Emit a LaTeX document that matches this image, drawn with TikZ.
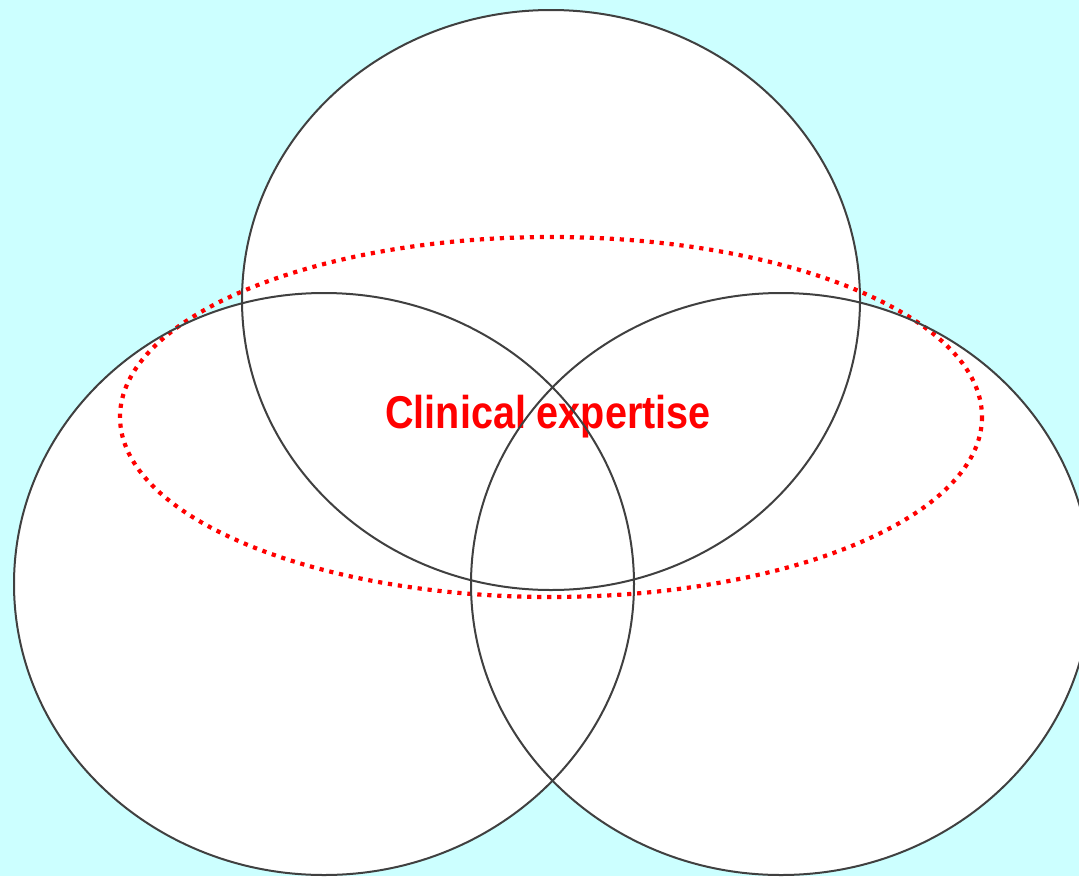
\documentclass[tikz,border=0pt]{standalone}
\usepackage{fontspec}
\setsansfont{Liberation Sans}
\definecolor{bgcyan}{HTML}{CCFFFF}
\definecolor{rimgray}{HTML}{404040}

\begin{document}
\begin{tikzpicture}[x=1pt,y=-1pt,
    rim/.style={color=rimgray, line width=2pt},
    expertise/.style={color=red, line width=4.2pt, dash pattern=on 4.2pt off 5.8pt}]
    \fill[bgcyan] (0,0) rectangle (1079,876);
    \useasboundingbox (0,0) rectangle (1079,876);
    % white discs first, rims on top
    \fill[white] (551,300) ellipse (309 and 290);
    \fill[white] (324,584) ellipse (310 and 291);
    \fill[white] (781,584) ellipse (310 and 291);
    \draw[expertise] (551,417) ellipse (431 and 180);
    \node[text=red, font=\sffamily\bfseries\fontsize{46}{50}\selectfont] (label) at (548,417) {\scalebox{0.86}[1]{Clinical expertise}};
    \draw[rim] (551,300) ellipse (309 and 290);
    \draw[rim] (324,584) ellipse (310 and 291);
    \draw[rim] (781,584) ellipse (310 and 291);
\end{tikzpicture}
\end{document}
